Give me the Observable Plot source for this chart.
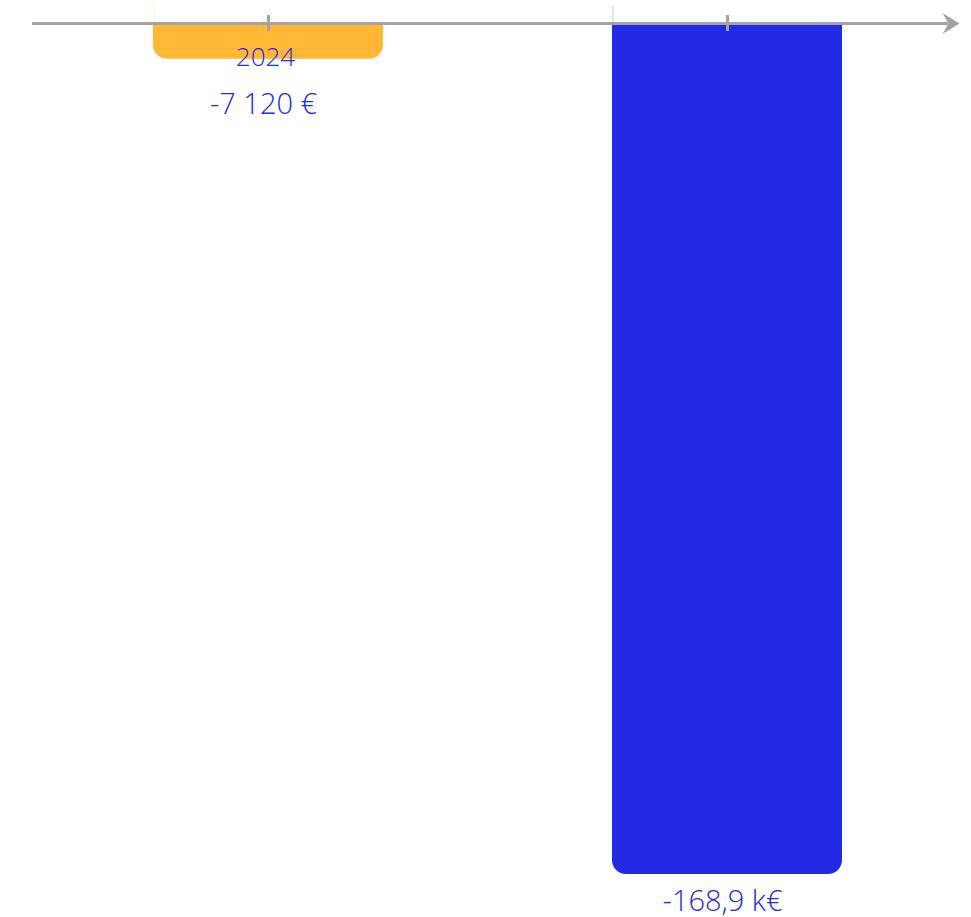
<!DOCTYPE html>
<html>
<head>
<meta charset="utf-8">
<script src="https://cdn.jsdelivr.net/npm/d3@7"></script>
<script src="https://cdn.jsdelivr.net/npm/@observablehq/plot@0.6"></script>
<style>
  html, body { margin: 0; padding: 0; background: #ffffff; }
  #chart svg { display: block; }
</style>
</head>
<body>
<div id="chart"></div>
<script>
const categories = ["2024", "2025"];
const values = [-7120, -168900];
const barColors = ["#FFB734", "#232AE6"];
const textColor = "#232AE6";
const axisColor = "#A3A3A6";

const data = categories.map((c, i) => ({category: c, value: values[i]}));

const fmt = v => {
  const s = v < 0 ? "-" : "";
  const a = Math.abs(v);
  return a >= 100000
    ? s + (a / 1000).toFixed(1).replace(".", ",") + " k€"
    : s + d3.format(",")(a).replace(/,/g, " ") + " €";
};

// notched arrowhead symbol, tip at the anchor point
const arrowHead = {
  draw(context) {
    context.moveTo(0, 0);
    context.lineTo(-17, -10.5);
    context.lineTo(-11, 0);
    context.lineTo(-17, 10.5);
    context.closePath();
  }
};

const font = {fontFamily: "Open Sans", fontWeight: 300};

const chart = Plot.plot({
  width: 971,
  height: 917,
  marginTop: 23,
  marginBottom: 43,
  marginLeft: 38,
  marginRight: 15,
  x: {domain: categories, paddingInner: 0.5, paddingOuter: 0.25, axis: null},
  y: {domain: [-168900, 0], axis: null},
  color: {domain: categories, range: barColors},
  style: {fontFamily: "Open Sans", background: "#ffffff", overflow: "visible"},
  marks: [
    Plot.ruleX(data, {x: "category", y1: 0, y2: 0, insetTop: -18, dx: -114.5, stroke: "category", strokeOpacity: 0.25, strokeWidth: 1}),
    Plot.barY(data, {x: "category", y: "value", fill: "category", ry2: 14}),
    Plot.ruleY([0], {stroke: axisColor, strokeWidth: 3, insetLeft: -6, insetRight: 8}),
    Plot.dot([0], {y: d => d, frameAnchor: "right", dx: 3, symbol: arrowHead, fill: axisColor, stroke: "none"}),
    Plot.ruleX(categories, {x: d => d, y1: 0, y2: 0, insetTop: -8, insetBottom: -8, stroke: axisColor, strokeWidth: 3}),
    Plot.text(data, {x: "category", y: 0, text: "category", dy: 34, dx: -3, fill: textColor, fontSize: 26, ...font}),
    Plot.text(data, {filter: d => d.value > -20000, x: "category", y: 0, text: d => fmt(d.value), dy: 81, dx: -5, fill: textColor, fontSize: 29, ...font}),
    Plot.text(data, {filter: d => d.value <= -20000, x: "category", y: "value", text: d => fmt(d.value), dy: 27, dx: -5, fill: textColor, fontSize: 29, ...font})
  ]
});

document.getElementById("chart").appendChild(chart);
</script>
</body>
</html>
